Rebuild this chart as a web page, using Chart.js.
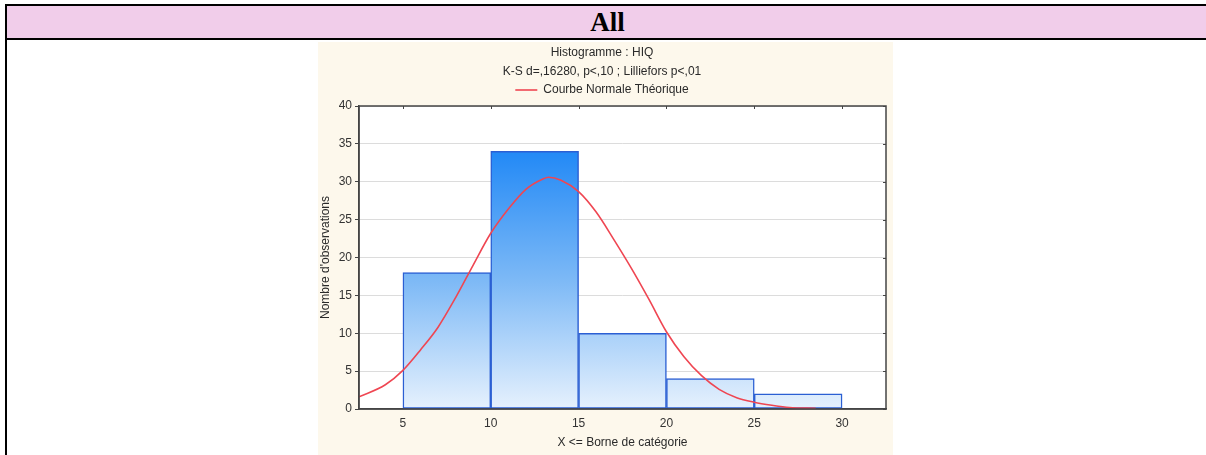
<!DOCTYPE html>
<html>
<head>
<meta charset="utf-8">
<script src="https://cdn.jsdelivr.net/npm/chart.js@4.4.1/dist/chart.umd.min.js"></script>
<style>
  html, body { margin: 0; padding: 0; background: #ffffff; width: 1206px; height: 455px; overflow: hidden; position: relative; }
  #hdr { position: absolute; left: 5px; top: 4px; width: 1201px; height: 32px; background: #f1cdea;
         border-top: 2px solid #000; border-left: 2px solid #000; border-bottom: 2px solid #000;
         font-family: "Liberation Serif", "DejaVu Serif", serif; font-weight: bold; font-size: 27px;
         text-align: center; line-height: 33px; color: #000; }
  #vline { position: absolute; left: 5px; top: 40px; width: 2px; height: 415px; background: #000; }
  #wrap { position: absolute; left: 318px; top: 42px; width: 575px; height: 413px; background: #fdf8ec; }
</style>
</head>
<body>
<div id="hdr">All</div>
<div id="vline"></div>
<div id="wrap"><canvas id="c" width="575" height="413"></canvas></div>
<script>
const titleLines = ["Histogramme : HIQ", "K-S d=,16280, p<,10 ; Lilliefors p<,01"];
const curveLabel = "Courbe Normale Théorique";
const xTitle = "X <= Borne de catégorie";
const yTitle = "Nombre d'observations";

const binCenters = [7.5, 12.5, 17.5, 22.5, 27.5];
const binCounts = [18, 34, 10, 4, 2];

const curveX = [2.5, 4, 5, 6, 7, 8, 9, 10, 11, 12, 13, 13.3, 14, 15, 16, 17, 18, 19, 20, 21, 22, 23, 24, 25, 26, 27, 28.5];
const curveY = [1.6, 3.2, 5.1, 7.8, 10.8, 14.7, 19.0, 23.2, 26.4, 29.0, 30.4, 30.6, 30.2, 28.7, 26.0, 22.4, 18.6, 14.5, 10.2, 6.9, 4.4, 2.6, 1.5, 0.9, 0.5, 0.2, 0.1];

const xTicks = [5, 10, 15, 20, 25, 30];
const yTicks = [0, 5, 10, 15, 20, 25, 30, 35, 40];

const FONT = "'Liberation Sans', Arial, sans-serif";

const framePlugin = {
  id: 'frame',
  beforeDraw(chart) {
    const {ctx, chartArea: a} = chart;
    ctx.save();
    ctx.fillStyle = '#ffffff';
    ctx.fillRect(a.left, a.top, a.right - a.left, a.bottom - a.top);
    ctx.restore();
  },
  afterDatasetsDraw(chart) {
    const {ctx, chartArea: a, scales} = chart;
    ctx.save();
    ctx.strokeStyle = '#444';
    ctx.lineWidth = 1.5;
    ctx.strokeRect(a.left, a.top, a.right - a.left, a.bottom - a.top);
    ctx.lineWidth = 1;
    xTicks.forEach(v => {
      const px = Math.round(scales.x.getPixelForValue(v)) + 0.5;
      ctx.beginPath(); ctx.moveTo(px, a.top); ctx.lineTo(px, a.top + 3); ctx.stroke();
    });
    yTicks.forEach(v => {
      const py = Math.round(scales.y.getPixelForValue(v)) + 0.5;
      ctx.beginPath(); ctx.moveTo(a.right, py); ctx.lineTo(a.right - 3, py); ctx.stroke();
    });
    ctx.restore();
  }
};

function barGradient(context) {
  const chart = context.chart;
  const {ctx, chartArea, scales} = chart;
  if (!chartArea) return '#8fc3f7';
  const top = scales.y.getPixelForValue(34);
  const bottom = scales.y.getPixelForValue(0);
  const g = ctx.createLinearGradient(0, top, 0, bottom);
  g.addColorStop(0, '#2289f6');
  g.addColorStop(0.5, '#7db9f6');
  g.addColorStop(1, '#e6f1fd');
  return g;
}

new Chart(document.getElementById('c'), {
  type: 'bar',
  data: {
    datasets: [
      {
        type: 'line',
        label: curveLabel,
        data: curveX.map((x, i) => ({x: x, y: curveY[i]})),
        borderColor: '#ef4652',
        backgroundColor: '#ef4652',
        borderWidth: 1.6,
        pointRadius: 0,
        cubicInterpolationMode: 'monotone',
        fill: false,
        order: 0
      },
      {
        type: 'bar',
        label: 'HIQ',
        data: binCenters.map((x, i) => ({x: x, y: binCounts[i]})),
        backgroundColor: barGradient,
        borderColor: '#2b5fd3',
        borderWidth: 1.5,
        borderSkipped: false,
        barPercentage: 1,
        categoryPercentage: 1,
        grouped: false,
        order: 1
      }
    ]
  },
  options: {
    responsive: false,
    animation: false,
    devicePixelRatio: 1,
    layout: { padding: { top: 0, left: 0, right: 7, bottom: 0 } },
    plugins: {
      title: {
        display: true,
        text: titleLines,
        color: '#2a2a2a',
        font: { family: FONT, size: 12, weight: 'normal', lineHeight: '19px' },
        padding: { top: 1, bottom: 0 }
      },
      legend: {
        display: true,
        labels: {
          filter: item => item.text === curveLabel,
          usePointStyle: true,
          pointStyle: 'line',
          pointStyleWidth: 22,
          padding: 3,
          color: '#2a2a2a',
          font: { family: FONT, size: 12 }
        }
      },
      tooltip: { enabled: false }
    },
    scales: {
      x: {
        type: 'linear',
        min: 2.5,
        max: 32.5,
        offset: false,
        afterBuildTicks: s => { s.ticks = xTicks.map(v => ({value: v})); },
        afterFit: s => { s.height = 46; },
        grid: { display: false, drawTicks: true, tickLength: 4 },
        border: { display: true, color: '#444', width: 1.5 },
        ticks: { color: '#333', font: { family: FONT, size: 12 }, padding: 3, maxRotation: 0 },
        title: { display: true, text: xTitle, color: '#2a2a2a', font: { family: FONT, size: 12 }, padding: { top: 0, bottom: 5 } }
      },
      y: {
        min: 0,
        max: 40,
        afterBuildTicks: s => { s.ticks = yTicks.map(v => ({value: v})); },
        afterFit: s => { s.width = 41; },
        grid: { color: '#dcdcdc', lineWidth: 1, drawTicks: true, tickLength: 4, tickColor: '#444' },
        border: { display: true, color: '#444', width: 1.5 },
        ticks: { color: '#333', font: { family: FONT, size: 12 }, padding: 3 },
        title: { display: true, text: yTitle, color: '#2a2a2a', font: { family: FONT, size: 12 }, padding: { top: 0, bottom: 0 } }
      }
    }
  },
  plugins: [framePlugin]
});
</script>
</body>
</html>
